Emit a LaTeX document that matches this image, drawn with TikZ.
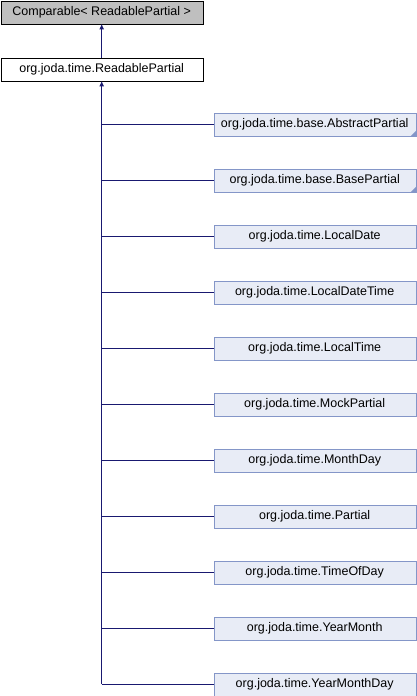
\documentclass[tikz,border=0pt]{standalone}
\usepackage{fontspec}
\setmainfont{Liberation Sans}
\usetikzlibrary{arrows.meta}
\definecolor{edgeblue}{RGB}{25,25,112}
\definecolor{classfill}{RGB}{232,236,246}
\definecolor{classline}{RGB}{132,150,200}
\definecolor{focusgray}{RGB}{191,191,191}

\begin{document}
\begin{tikzpicture}[x=1pt,y=-1pt,font=\fontsize{12.5}{14}\selectfont,
box/.style={draw, minimum width=202pt, minimum height=23pt, inner sep=0pt, anchor=north west},
cls/.style={box, draw=classline, fill=classfill},
edge/.style={draw=edgeblue, line width=1pt},
inh/.style={edge, -{Latex[length=5.5pt,width=5pt]}}]
\useasboundingbox (0,0) rectangle (416,696);
\node[box, fill=focusgray] (cmp) at (0.5,0.5) {Comparable< ReadablePartial >};
\node[box, fill=white] (rp) at (0.5,57.5) {org.joda.time.ReadablePartial};
\node[cls] (abs) at (213.5,112.5) {org.joda.time.base.AbstractPartial};
\node[cls] (base) at (213.5,168.5) {org.joda.time.base.BasePartial};
\node[cls] (ldate) at (213.5,224.5) {org.joda.time.LocalDate};
\node[cls] (ldt) at (213.5,280.5) {org.joda.time.LocalDateTime};
\node[cls] (ltime) at (213.5,336.5) {org.joda.time.LocalTime};
\node[cls] (mock) at (213.5,392.5) {org.joda.time.MockPartial};
\node[cls] (mday) at (213.5,448.5) {org.joda.time.MonthDay};
\node[cls] (part) at (213.5,504.5) {org.joda.time.Partial};
\node[cls] (tod) at (213.5,560.5) {org.joda.time.TimeOfDay};
\node[cls] (ym) at (213.5,616.5) {org.joda.time.YearMonth};
\node[cls] (ymd) at (213.5,672.5) {org.joda.time.YearMonthDay};
% folded corners
\fill[classline] (abs.south east) -- ++(-5,0) -- ++(5,-5) -- cycle;
\fill[classline] (base.south east) -- ++(-5,0) -- ++(5,-5) -- cycle;
% inheritance
\draw[inh] (rp.north) -- (cmp.south);
\draw[inh] (rp.south |- ymd.west) -- (rp.south);
\draw[edge] (rp.south |- abs.west) -- (abs.west);
\draw[edge] (rp.south |- base.west) -- (base.west);
\draw[edge] (rp.south |- ldate.west) -- (ldate.west);
\draw[edge] (rp.south |- ldt.west) -- (ldt.west);
\draw[edge] (rp.south |- ltime.west) -- (ltime.west);
\draw[edge] (rp.south |- mock.west) -- (mock.west);
\draw[edge] (rp.south |- mday.west) -- (mday.west);
\draw[edge] (rp.south |- part.west) -- (part.west);
\draw[edge] (rp.south |- tod.west) -- (tod.west);
\draw[edge] (rp.south |- ym.west) -- (ym.west);
\draw[edge] (rp.south |- ymd.west) -- (ymd.west);
\end{tikzpicture}
\end{document}
